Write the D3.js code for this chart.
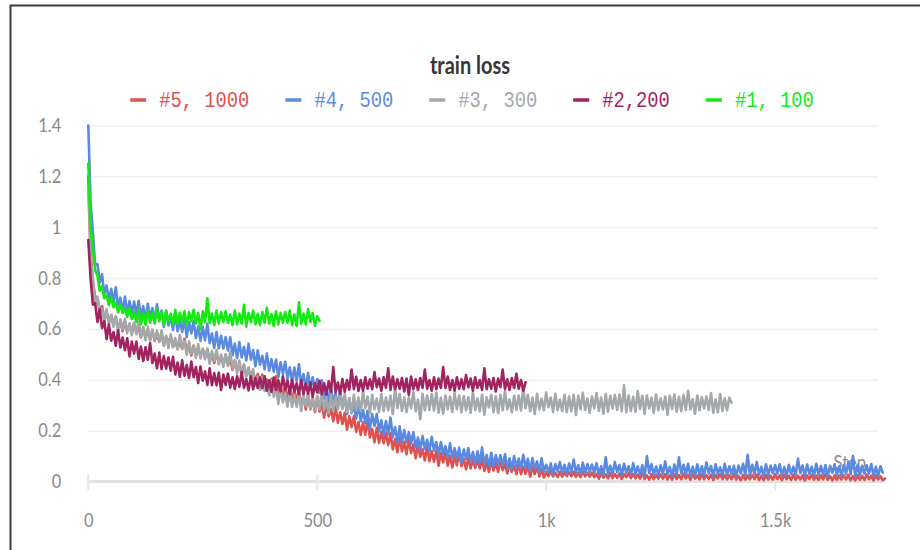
<!DOCTYPE html>
<html>
<head>
<meta charset="utf-8">
<script src="https://cdn.jsdelivr.net/npm/d3@7"></script>
<style>
  body { margin: 0; background: #fff; }
  svg { display: block; }
</style>
</head>
<body>
<svg id="chart" width="920" height="550"></svg>
<script>
// ---- data -------------------------------------------------------------
const chartTitle = "train loss";
const xAxisLabel = "Step";
const stepInterval = 5;               // one logged value every 5 steps
const runNames  = ["#5, 1000", "#4, 500", "#3, 300", "#2,200", "#1, 100"];
const runColors = ["#e1504e", "#5a8ae0", "#a3a8ab", "#a1235f", "#12ea12"];
const yTicks = [0, 0.2, 0.4, 0.6, 0.8, 1, 1.2, 1.4];
const xTicks = [0, 500, 1000, 1500];
const xTickLabels = ["0", "500", "1k", "1.5k"];

// run #5, 1000 : steps 0..1740
const lossRun5 = [
  1.20,0.90,0.79,0.725,0.721,0.668,0.69,0.642,0.665,0.63,0.655,0.618,0.648,0.601,0.628,0.591,0.63,0.592,0.617,0.583,
  0.624,0.584,0.607,0.567,0.606,0.57,0.591,0.557,0.596,0.553,0.581,0.55,0.58,0.535,0.571,0.542,0.572,0.529,0.557,0.521,
  0.556,0.521,0.561,0.511,0.533,0.496,0.535,0.494,0.524,0.493,0.521,0.487,0.519,0.474,0.502,0.466,0.505,0.467,0.492,0.458,
  0.499,0.458,0.48,0.439,0.477,0.44,0.459,0.423,0.46,0.415,0.441,0.408,0.436,0.389,0.423,0.392,0.42,0.375,0.401,0.363,
  0.404,0.354,0.414,0.342,0.376,0.324,0.381,0.321,0.365,0.32,0.361,0.312,0.359,0.294,0.335,0.283,0.34,0.285,0.322,0.273,
  0.333,0.275,0.309,0.251,0.308,0.256,0.286,0.237,0.294,0.231,0.272,0.226,0.27,0.204,0.257,0.214,0.257,0.195,0.235,0.183,
  0.233,0.184,0.244,0.173,0.206,0.154,0.211,0.152,0.196,0.151,0.192,0.143,0.19,0.126,0.167,0.115,0.173,0.118,0.156,0.107,
  0.166,0.112,0.145,0.091,0.145,0.097,0.127,0.083,0.137,0.08,0.12,0.078,0.121,0.062,0.113,0.075,0.118,0.062,0.102,0.055,
  0.10,0.064,0.113,0.06,0.088,0.048,0.095,0.051,0.087,0.053,0.087,0.051,0.09,0.042,0.076,0.037,0.084,0.043,0.074,0.038,
  0.083,0.045,0.07,0.032,0.073,0.038,0.061,0.029,0.07,0.029,0.059,0.03,0.062,0.019,0.056,0.029,0.061,0.02,0.05,0.016,
  0.037,0.021,0.043,0.02,0.034,0.017,0.038,0.019,0.036,0.021,0.037,0.021,0.039,0.018,0.034,0.017,0.038,0.02,0.035,0.019,
  0.035,0.017,0.03,0.011,0.032,0.015,0.028,0.012,0.033,0.013,0.029,0.014,0.031,0.01,0.03,0.017,0.033,0.013,0.029,0.012,
  0.027,0.011,0.033,0.01,0.024,0.007,0.028,0.009,0.026,0.011,0.027,0.011,0.029,0.008,0.024,0.007,0.028,0.01,0.025,0.009,
  0.031,0.012,0.026,0.007,0.028,0.011,0.024,0.008,0.029,0.009,0.025,0.01,0.027,0.006,0.026,0.012,0.029,0.009,0.025,0.008,
  0.025,0.009,0.031,0.008,0.022,0.005,0.026,0.007,0.024,0.009,0.025,0.009,0.027,0.006,0.022,0.005,0.026,0.008,0.023,0.007,
  0.029,0.01,0.024,0.005,0.026,0.009,0.022,0.006,0.027,0.007,0.023,0.008,0.025,0.004,0.024,0.01,0.027,0.007,0.023,0.006,
  0.024,0.008,0.03,0.007,0.021,0.004,0.025,0.006,0.023,0.008,0.024,0.008,0.026,0.005,0.021,0.004,0.025,0.007,0.022,0.006,
  0.028,0.009,0.023,0.004,0.025,0.008,0.021,0.005,0.012
];

// run #4, 500 : steps 0..1735
const lossRun4 = [
  1.40,1.10,0.98,0.852,0.855,0.783,0.815,0.737,0.771,0.709,0.758,0.701,0.764,0.686,0.723,0.665,0.727,0.662,0.71,0.662,
  0.708,0.657,0.711,0.643,0.69,0.635,0.699,0.64,0.682,0.63,0.697,0.634,0.672,0.608,0.671,0.614,0.649,0.596,0.658,0.591,
  0.636,0.588,0.637,0.568,0.628,0.583,0.631,0.564,0.609,0.553,0.608,0.555,0.621,0.544,0.582,0.525,0.588,0.524,0.573,0.523,
  0.568,0.515,0.567,0.497,0.542,0.485,0.548,0.488,0.529,0.476,0.542,0.479,0.517,0.453,0.516,0.459,0.494,0.441,0.503,0.436,
  0.481,0.432,0.48,0.41,0.469,0.423,0.471,0.404,0.449,0.393,0.448,0.395,0.461,0.384,0.422,0.365,0.427,0.362,0.41,0.359,
  0.403,0.348,0.398,0.326,0.369,0.31,0.371,0.309,0.348,0.293,0.357,0.293,0.33,0.265,0.327,0.269,0.302,0.247,0.307,0.238,
  0.281,0.231,0.278,0.207,0.265,0.218,0.265,0.197,0.241,0.183,0.238,0.185,0.251,0.174,0.214,0.155,0.217,0.153,0.202,0.153,
  0.194,0.149,0.194,0.134,0.173,0.125,0.179,0.128,0.164,0.119,0.176,0.122,0.155,0.101,0.155,0.108,0.139,0.095,0.15,0.093,
  0.131,0.09,0.133,0.074,0.126,0.088,0.131,0.075,0.116,0.069,0.119,0.075,0.134,0.069,0.104,0.057,0.113,0.061,0.104,0.064,
  0.103,0.063,0.107,0.053,0.091,0.048,0.10,0.054,0.09,0.05,0.105,0.056,0.089,0.04,0.092,0.049,0.079,0.039,0.091,0.04,
  0.066,0.035,0.071,0.026,0.069,0.04,0.076,0.033,0.066,0.03,0.071,0.038,0.086,0.035,0.064,0.028,0.074,0.033,0.069,0.038,
  0.067,0.034,0.072,0.026,0.06,0.024,0.095,0.031,0.062,0.029,0.077,0.036,0.065,0.024,0.07,0.034,0.06,0.026,0.072,0.029,
  0.059,0.028,0.064,0.019,0.10,0.033,0.069,0.026,0.059,0.023,0.064,0.031,0.079,0.028,0.057,0.021,0.067,0.026,0.095,0.031,
  0.066,0.029,0.07,0.022,0.058,0.02,0.068,0.027,0.06,0.024,0.075,0.032,0.061,0.02,0.068,0.03,0.056,0.024,0.07,0.025,
  0.06,0.03,0.062,0.02,0.063,0.031,0.07,0.025,0.105,0.024,0.066,0.029,0.077,0.027,0.058,0.022,0.068,0.024,0.063,0.032,
  0.065,0.031,0.068,0.024,0.057,0.022,0.066,0.029,0.058,0.026,0.09,0.033,0.063,0.021,0.067,0.03,0.058,0.023,0.07,0.026,
  0.061,0.027,0.065,0.02,0.062,0.034,0.068,0.026,0.06,0.022,0.065,0.03,0.078,0.028,0.10,0.021,0.066,0.025,0.062,0.03,
  0.064,0.031,0.069,0.023,0.058,0.022,0.06,0.035
];

// run #3, 300 : steps 0..1405
const lossRun3 = [
  1.15,0.88,0.80,0.70,0.727,0.662,0.68,0.628,0.678,0.618,0.654,0.609,0.649,0.587,0.638,0.598,0.64,0.583,0.622,0.575,
  0.624,0.579,0.636,0.57,0.603,0.555,0.609,0.555,0.597,0.555,0.594,0.549,0.594,0.534,0.573,0.525,0.579,0.528,0.564,0.519,
  0.576,0.521,0.553,0.498,0.551,0.502,0.532,0.487,0.541,0.484,0.523,0.481,0.523,0.463,0.514,0.475,0.517,0.46,0.499,0.451,
  0.499,0.454,0.51,0.443,0.475,0.425,0.476,0.419,0.458,0.413,0.449,0.40,0.441,0.377,0.412,0.36,0.41,0.355,0.387,0.338,
  0.398,0.333,0.37,0.305,0.368,0.311,0.347,0.294,0.358,0.293,0.34,0.293,0.344,0.277,0.339,0.296,0.347,0.283,0.331,0.279,
  0.337,0.284,0.36,0.28,0.326,0.269,0.341,0.277,0.334,0.284,0.337,0.284,0.345,0.273,0.326,0.269,0.341,0.28,0.33,0.277,
  0.353,0.288,0.334,0.269,0.341,0.284,0.326,0.273,0.345,0.277,0.33,0.28,0.337,0.265,0.37,0.288,0.345,0.277,0.33,0.273,
  0.33,0.288,0.352,0.276,0.322,0.245,0.345,0.28,0.338,0.281,0.343,0.279,0.35,0.27,0.329,0.266,0.338,0.284,0.334,0.273,
  0.347,0.284,0.338,0.272,0.336,0.28,0.331,0.27,0.349,0.281,0.326,0.276,0.341,0.262,0.331,0.291,0.341,0.273,0.335,0.269,
  0.341,0.28,0.355,0.284,0.322,0.272,0.337,0.281,0.338,0.279,0.372,0.288,0.341,0.276,0.33,0.265,0.345,0.283,0.326,0.28,
  0.35,0.292,0.33,0.273,0.345,0.28,0.322,0.277,0.341,0.273,0.334,0.276,0.341,0.261,0.338,0.284,0.349,0.281,0.326,0.27,
  0.334,0.287,0.348,0.277,0.33,0.266,0.344,0.274,0.337,0.287,0.34,0.281,0.342,0.276,0.378,0.272,0.338,0.277,0.333,0.274,
  0.356,0.285,0.337,0.266,0.338,0.287,0.329,0.27,0.342,0.28,0.327,0.283,0.334,0.262,0.337,0.285,0.342,0.274,0.333,0.276,
  0.34,0.281,0.357,0.283,0.323,0.266,0.338,0.28,0.331,0.287,0.334,0.281,0.348,0.27,0.323,0.272,0.344,0.277,0.327,0.28,
  0.33,0.31
];

// run #2,200 : steps 0..955
const lossRun2 = [
  0.95,0.80,0.696,0.701,0.627,0.677,0.603,0.63,0.56,0.617,0.554,0.588,0.534,0.595,0.527,0.566,0.516,0.563,0.492,0.55,
  0.503,0.55,0.482,0.531,0.474,0.528,0.479,0.544,0.466,0.503,0.445,0.507,0.442,0.493,0.444,0.488,0.436,0.49,0.421,0.468,
  0.412,0.477,0.416,0.458,0.407,0.472,0.41,0.45,0.387,0.452,0.396,0.433,0.38,0.445,0.379,0.426,0.378,0.428,0.36,0.421,
  0.38,0.424,0.369,0.41,0.364,0.414,0.372,0.431,0.368,0.403,0.358,0.414,0.363,0.407,0.368,0.409,0.367,0.414,0.357,0.398,
  0.353,0.409,0.36,0.398,0.355,0.414,0.362,0.397,0.344,0.40,0.354,0.386,0.343,0.399,0.344,0.385,0.345,0.39,0.332,0.386,
  0.35,0.396,0.343,0.386,0.342,0.394,0.353,0.45,0.352,0.389,0.345,0.403,0.353,0.399,0.361,0.44,0.363,0.412,0.356,0.399,
  0.357,0.41,0.365,0.402,0.363,0.43,0.371,0.405,0.357,0.41,0.368,0.445,0.36,0.413,0.363,0.402,0.365,0.407,0.354,0.405,
  0.34,0.413,0.363,0.402,0.36,0.407,0.368,0.44,0.365,0.399,0.357,0.41,0.363,0.405,0.368,0.45,0.368,0.413,0.36,0.399,
  0.357,0.41,0.365,0.402,0.363,0.419,0.371,0.405,0.357,0.41,0.368,0.399,0.36,0.445,0.363,0.402,0.365,0.407,0.354,0.405,
  0.371,0.44,0.363,0.402,0.36,0.407,0.368,0.424,0.365,0.399,0.357,0.39
];

// run #1, 100 : steps 0..505
const lossRun1 = [
  1.25,1.0,0.91,0.83,0.81,0.75,0.768,0.721,0.732,0.694,0.724,0.685,0.704,0.665,0.698,0.663,0.68,0.647,0.68,0.639,
  0.669,0.627,0.675,0.618,0.66,0.615,0.672,0.624,0.663,0.621,0.681,0.63,0.666,0.615,0.672,0.627,0.66,0.618,0.675,0.621,
  0.663,0.624,0.669,0.612,0.666,0.63,0.675,0.621,0.663,0.598,0.669,0.627,0.72,0.624,0.66,0.615,0.672,0.621,0.666,0.627,
  0.669,0.624,0.657,0.615,0.672,0.618,0.66,0.621,0.695,0.609,0.663,0.627,0.672,0.618,0.66,0.615,0.666,0.624,0.684,0.621,
  0.657,0.612,0.669,0.618,0.663,0.624,0.666,0.624,0.672,0.615,0.657,0.612,0.705,0.621,0.66,0.618,0.678,0.627,0.663,0.612,
  0.65,0.632
];

// ---- layout -----------------------------------------------------------
const svg = d3.select("#chart");
const TEXT_STRETCH = 1.2;   // tall, narrow lettering of the dashboard style

const x = d3.scaleLinear().domain([0, 1740]).range([88.3, 885]);
const y = d3.scaleLinear().domain([0, 1.4]).range([481.5, 125.5]);
const gridRight = 878;

const runs = [lossRun5, lossRun4, lossRun3, lossRun2, lossRun1].map((vals, k) => ({
  name: runNames[k],
  color: runColors[k],
  points: vals.map((v, i) => ({ step: i * stepInterval, loss: v }))
}));

// frame around the panel (left and top edges)
svg.append("path")
  .attr("d", "M10.5,550 V5.5 H920")
  .attr("fill", "none")
  .attr("stroke", "#3a3a3a")
  .attr("stroke-width", 2);

// horizontal grid
const grid = svg.append("g")
  .attr("transform", `translate(${x(0)},0)`)
  .call(d3.axisLeft(y).tickValues(yTicks.filter(t => t > 0))
    .tickSize(-(gridRight - x(0))).tickFormat(""));
grid.select(".domain").remove();
grid.selectAll("line").attr("stroke", "#efefef").attr("stroke-width", 1.5);

// x baseline and tick marks
svg.append("line")
  .attr("x1", x(0)).attr("x2", x.range()[1])
  .attr("y1", y(0)).attr("y2", y(0))
  .attr("stroke", "#e2e2e2").attr("stroke-width", 3);
svg.append("g").selectAll("line").data(xTicks).join("line")
  .attr("x1", d => x(d)).attr("x2", d => x(d))
  .attr("y1", y(0) - 7).attr("y2", y(0) + 9)
  .attr("stroke", "#e6e6e6").attr("stroke-width", 2);

// y tick labels
const yAxis = svg.append("g")
  .attr("transform", `translate(${x(0)},0)`)
  .call(d3.axisLeft(y).tickValues(yTicks).tickSize(0).tickPadding(27)
    .tickFormat(d3.format("")));
yAxis.select(".domain").remove();
yAxis.selectAll("text")
  .attr("font-family", "Lato, 'Open Sans', sans-serif")
  .attr("font-size", 16.5)
  .attr("fill", "#8a8a8a")
  .attr("dy", null)
  .attr("y", 0)
  .attr("transform", `translate(0,6) scale(1,${TEXT_STRETCH})`);

// x tick labels
const xAxis = svg.append("g")
  .attr("transform", `translate(0,${y(0)})`)
  .call(d3.axisBottom(x).tickValues(xTicks).tickSize(0)
    .tickFormat((d, i) => xTickLabels[i]));
xAxis.select(".domain").remove();
xAxis.selectAll("text")
  .attr("font-family", "Lato, 'Open Sans', sans-serif")
  .attr("font-size", 16.5)
  .attr("fill", "#8a8a8a")
  .attr("dy", null)
  .attr("y", 0)
  .attr("transform", `translate(0,45) scale(1,${TEXT_STRETCH})`);

// axis name sits under the curves
svg.append("g")
  .attr("transform", `translate(866,469) scale(1,${TEXT_STRETCH})`)
  .append("text")
  .attr("text-anchor", "end")
  .attr("font-family", "Lato, 'Open Sans', sans-serif")
  .attr("font-size", 16.5)
  .attr("fill", "#8a8a8a")
  .text(xAxisLabel);

// loss curves, first run at the bottom
const line = d3.line()
  .x(d => x(d.step))
  .y(d => y(d.loss));
svg.append("g").selectAll("path").data(runs).join("path")
  .attr("d", d => line(d.points))
  .attr("fill", "none")
  .attr("stroke", d => d.color)
  .attr("stroke-width", 2.6)
  .attr("stroke-linejoin", "round")
  .attr("stroke-linecap", "round");

// title
svg.append("g")
  .attr("transform", `translate(470,74) scale(1,${TEXT_STRETCH})`)
  .append("text")
  .attr("text-anchor", "middle")
  .attr("font-family", "Lato, 'Open Sans', sans-serif")
  .attr("font-weight", "bold")
  .attr("font-size", 20)
  .attr("fill", "#363636")
  .text(chartTitle);

// legend, centred under the title
const legend = svg.append("g");
const items = legend.selectAll("g").data(runs).join("g");
items.append("line")
  .attr("x1", 0).attr("x2", 16)
  .attr("y1", 0).attr("y2", 0)
  .attr("stroke", d => d.color)
  .attr("stroke-width", 3.5);
items.append("g")
  .attr("transform", `translate(29,6.5) scale(1,${TEXT_STRETCH})`)
  .append("text")
  .attr("font-family", "'Liberation Mono', 'DejaVu Sans Mono', monospace")
  .attr("font-size", 18.8)
  .attr("fill", d => d.color)
  .text(d => d.name);
let cursor = 0;
items.each(function () {
  const w = 29 + d3.select(this).select("text").node().getComputedTextLength();
  d3.select(this).attr("transform", `translate(${cursor},0)`);
  cursor += w + 36;
});
const legendWidth = cursor - 36;
legend.attr("transform", `translate(${472 - legendWidth / 2},100)`);
</script>
</body>
</html>
